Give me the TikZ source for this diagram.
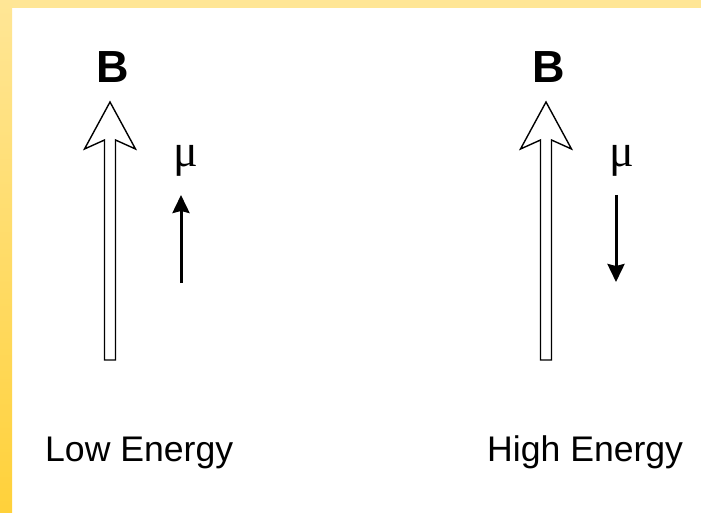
\documentclass[tikz,border=0pt]{standalone}
\usepackage{fontspec}
\setmainfont{Liberation Sans}
\newfontfamily\muface{Liberation Serif}
\usetikzlibrary{arrows.meta,positioning}
\definecolor{frameyellow}{RGB}{255,230,150}
\definecolor{frameorange}{RGB}{255,209,58}

\begin{document}
\begin{tikzpicture}[x=1pt,y=-1pt,
  energy/.style={font=\fontsize{35.6}{40}\selectfont,inner sep=0pt,anchor=base west},
  field/.style={font=\fontsize{45}{45}\selectfont\bfseries,inner sep=0pt,anchor=base},
  moment/.style={inner sep=0pt,anchor=base},
  spin/.style={line width=3pt,-{Stealth[length=18pt,width=17pt,inset=2pt]}},
  fieldarrow/.pic={\draw[line width=1.4pt,fill=white,line join=miter]
    (-5.5,360) -- (-5.5,140) -- (-25.5,149) -- (0,102) -- (25.5,149) -- (5.5,140) -- (5.5,360) -- cycle;}]
\useasboundingbox (0,0) rectangle (701,513);
% frame
\fill[white] (0,0) rectangle (701,513);
\fill[frameyellow] (0,0) rectangle (701,8);
\shade[top color=frameyellow,bottom color=frameorange] (0,0) rectangle (12,513);
% low energy
\pic at (110,0) {fieldarrow};
\node[field] (bLow) at (113,83) {B};
\node[moment] (muLow) at (186,167) {\muface\fontsize{46}{46}\selectfont μ};
\coordinate (muLowTail) at (181,283);
\coordinate (muLowHead) at (181,195);
\draw[spin] (muLowTail) -- (muLowHead);
\node[energy] (low) at (45,461.7) {Low Energy};
% high energy
\pic at (546,0) {fieldarrow};
\node[field] (bHigh) at (549,83) {B};
\node[moment] (muHigh) at (622,167) {\muface\fontsize{46}{46}\selectfont μ};
\coordinate (muHighTail) at (616,195);
\coordinate (muHighHead) at (616,282);
\draw[spin] (muHighTail) -- (muHighHead);
\node[energy] (high) at (487,461.7) {High Energy};
\end{tikzpicture}
\end{document}
